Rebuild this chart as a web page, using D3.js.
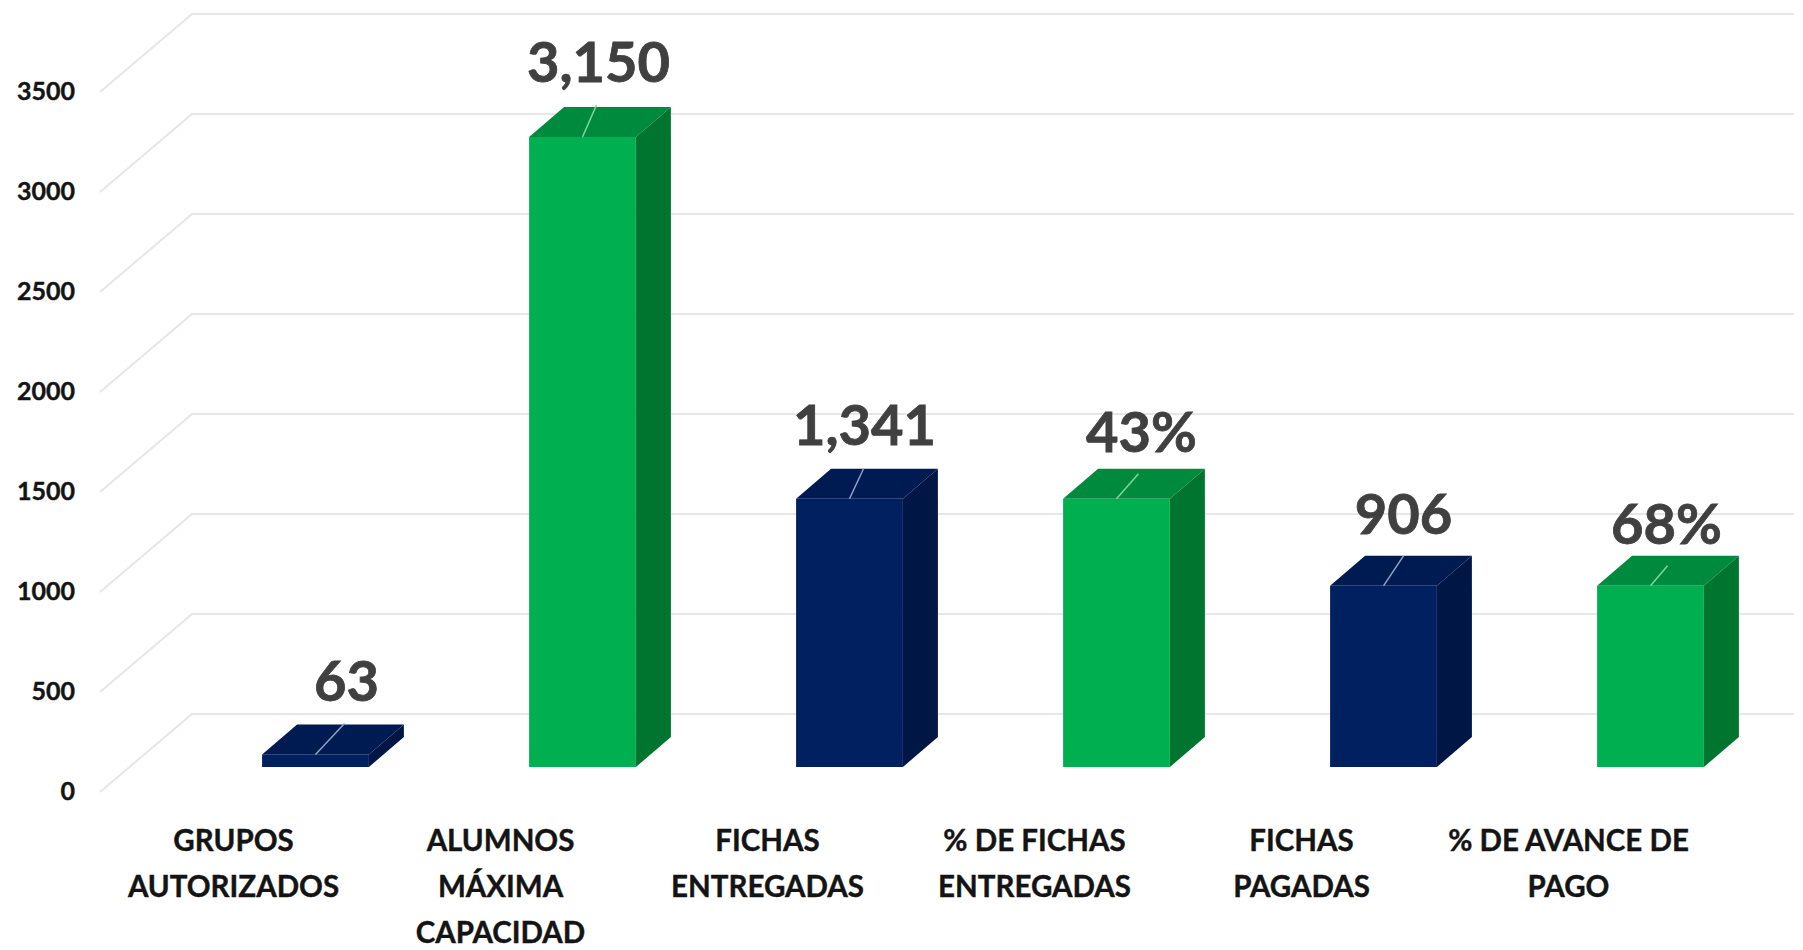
<!DOCTYPE html>
<html lang="en">
<head>
  <meta charset="UTF-8">
  <title>Fichas y alumnos</title>
  <script src="https://cdnjs.cloudflare.com/ajax/libs/d3/7.8.5/d3.min.js"></script>
  <style>
    html, body { margin: 0; background: #fff; }
    svg { display: block; font-family: Lato, "Open Sans", sans-serif; font-weight: 700; }
    .axis path { display: none; }
    .axis text { fill: #141414; stroke: #141414; stroke-width: 0.4; font-family: Lato, "Open Sans", sans-serif; }
  </style>
</head>
<body>
  <div id="my_dataviz"></div>

  <script>
    // chart data
    const categories = ["GRUPOS|AUTORIZADOS", "ALUMNOS|MÁXIMA|CAPACIDAD", "FICHAS|ENTREGADAS", "% DE FICHAS|ENTREGADAS", "FICHAS|PAGADAS", "% DE AVANCE DE|PAGO"];
    const barValues = [63, 3150, 1341, 1341, 906, 906];
    const barLabels = ["63", "3,150", "1,341", "43%", "906", "68%"];
    const barGroups = ["navy", "green", "navy", "green", "navy", "green"];
    const yTicks = [0, 500, 1000, 1500, 2000, 2500, 3000, 3500];

    const width = 1803, height = 950;

    // oblique 3D set up: wall is shifted from the front edge of the floor
    const wallDx = 92, wallDy = -78;
    const barDx = 35, barDy = -30;

    const colors = {
      navy: {front: "#002060", top: "#001a52", side: "#001645", leader: "#8ea3c9"},
      green: {front: "#00b050", top: "#008a3d", side: "#00752f", leader: "#7fd6a0"}
    };

    // hand placed data labels, same idea as dragging them in the original
    const labelDx = [31, 16, 15, 25, 20, 16];
    const labelDy = [-44, -45, -44, -37, -42, -32];
    const leaderEnd = [[29, -31], [14, -32], [14, -30], [22, -25], [20, -30], [17, -20]];

    const svg = d3.select("#my_dataviz").append("svg")
      .attr("width", width)
      .attr("height", height);

    const xAxisScale = d3.scaleBand().domain(categories).range([100, 1702]);
    const xBar = d3.scaleBand().domain(categories).range([182, 1784])
      .paddingInner(0.6).paddingOuter(0.3);

    const yFront = d3.scaleLinear().domain([0, 3500]).range([791, 91]);
    const yGrid = d3.scaleLinear().domain([0, 3500]).range([792, 92]);
    const yBar = d3.scaleLinear().domain([0, 3500]).range([767, 67]);

    // gridlines: diagonal on the side wall, then along the back wall
    const line = d3.line();
    svg.append("g").selectAll("path")
      .data(yTicks)
      .join("path")
      .attr("d", d => line([
        [xAxisScale.range()[0], yGrid(d)],
        [xAxisScale.range()[0] + wallDx, yGrid(d) + wallDy],
        [xAxisScale.range()[1] + wallDx, yGrid(d) + wallDy]
      ]))
      .attr("fill", "none")
      .attr("stroke", "#e6e6e6")
      .attr("stroke-width", 2);

    // y axis
    svg.append("g")
      .attr("class", "axis")
      .attr("transform", "translate(75,0)")
      .call(d3.axisLeft(yFront).tickValues(yTicks).tickFormat(d3.format("d")).tickSize(0).tickPadding(0))
      .selectAll("text")
      .attr("font-size", 25);

    // x axis, labels split on |
    const xAxis = svg.append("g")
      .attr("class", "axis")
      .attr("transform", "translate(0,818)")
      .call(d3.axisBottom(xAxisScale).tickSize(0).tickPadding(0));

    xAxis.selectAll("text").each(function(d) {
      const t = d3.select(this).text(null)
        .attr("font-size", 29.5)
        .attr("y", 0).attr("dy", null);
      d.split("|").forEach((part, i) => {
        t.append("tspan")
          .attr("x", 0)
          .attr("y", 33 + i * 46)
          .text(part);
      });
    });

    // bars
    const bars = svg.append("g").selectAll("g")
      .data(barValues)
      .join("g");

    const xOf = (d, i) => xBar(categories[i]);
    const bw = xBar.bandwidth();

    // top face
    bars.append("path")
      .attr("d", (d, i) => {
        const x = xOf(d, i), y = yBar(d);
        return line([[x, y], [x + barDx, y + barDy], [x + bw + barDx, y + barDy], [x + bw, y]]) + "Z";
      })
      .attr("fill", (d, i) => colors[barGroups[i]].top);

    // side face
    bars.append("path")
      .attr("d", (d, i) => {
        const x = xOf(d, i) + bw, y = yBar(d), y0 = yBar(0);
        return line([[x, y], [x + barDx, y + barDy], [x + barDx, y0 + barDy], [x, y0]]) + "Z";
      })
      .attr("fill", (d, i) => colors[barGroups[i]].side);

    // front face
    bars.append("rect")
      .attr("x", xOf)
      .attr("y", d => yBar(d))
      .attr("width", bw)
      .attr("height", d => yBar(0) - yBar(d))
      .attr("fill", (d, i) => colors[barGroups[i]].front);

    // leader lines from the bar to its label
    bars.append("line")
      .attr("x1", (d, i) => xOf(d, i) + bw / 2)
      .attr("y1", d => yBar(d))
      .attr("x2", (d, i) => xOf(d, i) + bw / 2 + leaderEnd[i][0])
      .attr("y2", (d, i) => yBar(d) + leaderEnd[i][1])
      .attr("stroke", (d, i) => colors[barGroups[i]].leader)
      .attr("stroke-width", 1.5);

    // data labels
    bars.append("text")
      .attr("x", (d, i) => xOf(d, i) + bw / 2 + labelDx[i])
      .attr("y", (d, i) => yBar(d) + barDy + labelDy[i])
      .attr("dy", "0.36em")
      .attr("text-anchor", "middle")
      .attr("font-size", 56)
      .attr("fill", "#404040")
      .attr("stroke", "#404040")
      .attr("stroke-width", 0.8)
      .text((d, i) => barLabels[i]);
  </script>
</body>
</html>
